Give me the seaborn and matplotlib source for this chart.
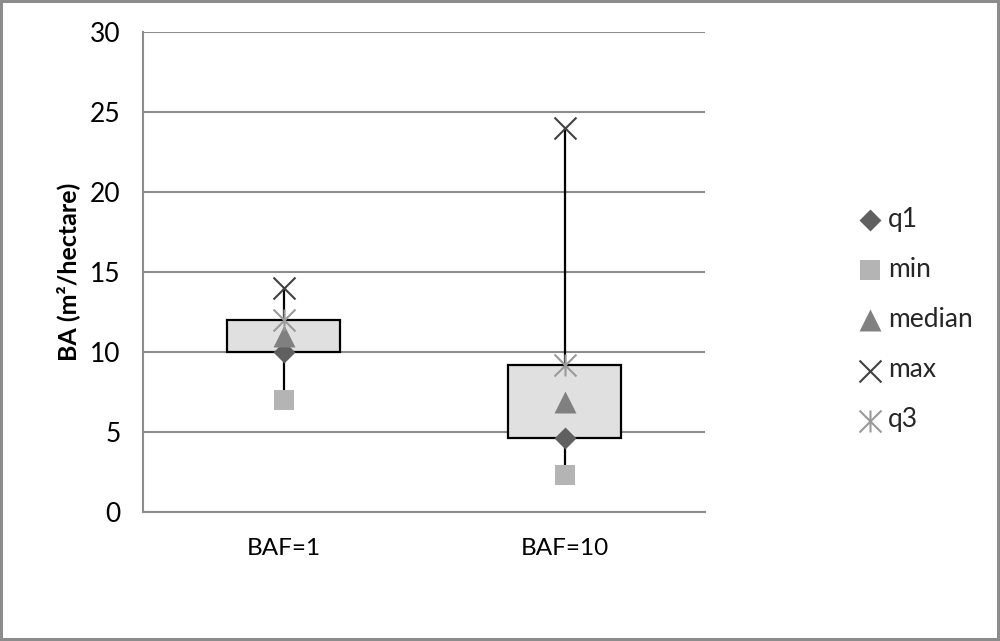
import numpy as np
import pandas as pd
import matplotlib
matplotlib.use("Agg")
import matplotlib.pyplot as plt
from matplotlib.path import Path
import seaborn as sns

categories = ["BAF=1", "BAF=10"]
q1_vals = [10.0, 4.6]
min_vals = [7.0, 2.3]
median_vals = [11.0, 6.9]
max_vals = [14.0, 24.0]
q3_vals = [12.0, 9.2]

sns.set_theme(style="white")
plt.rcParams["font.family"] = ["Lato", "DejaVu Sans"]

fig = plt.figure(figsize=(10, 6.41), dpi=100)
fig.patch.set_edgecolor("#8c8c8c")
fig.patch.set_linewidth(3)
ax = fig.add_axes([0.143, 0.2012, 0.562, 0.7488])

# boxes from quartiles, whiskers to min/max
stats = []
for i in range(len(categories)):
    stats.append(dict(med=median_vals[i], q1=q1_vals[i], q3=q3_vals[i],
                      whislo=min_vals[i], whishi=max_vals[i], fliers=[]))
ax.bxp(stats, positions=range(len(categories)), widths=0.4, patch_artist=True,
       showcaps=False, showfliers=False,
       boxprops=dict(facecolor="#e0e0e0", edgecolor="black", linewidth=1.6),
       whiskerprops=dict(color="black", linewidth=1.6),
       medianprops=dict(linewidth=0), manage_ticks=False, zorder=3)

star = Path([(0, -0.5), (0, 0.5), (-0.5, -0.5), (0.5, 0.5), (-0.5, 0.5), (0.5, -0.5)],
            [Path.MOVETO, Path.LINETO, Path.MOVETO, Path.LINETO, Path.MOVETO, Path.LINETO])

df = pd.DataFrame({"cat": categories, "q1": q1_vals, "min": min_vals,
                   "median": median_vals, "max": max_vals, "q3": q3_vals})

sns.scatterplot(data=df, x="cat", y="q1", marker="D", color="#606060", s=125,
                linewidth=0, label="q1", ax=ax, zorder=5)
sns.scatterplot(data=df, x="cat", y="min", marker="s", color="#b4b4b4", s=210,
                linewidth=0, label="min", ax=ax, zorder=5)
sns.scatterplot(data=df, x="cat", y="median", marker="^", color="#808080", s=250,
                linewidth=0, label="median", ax=ax, zorder=5)
sns.scatterplot(data=df, x="cat", y="max", marker="x", color="#404040", s=250,
                linewidth=1.5, label="max", ax=ax, zorder=5)
sns.scatterplot(data=df, x="cat", y="q3", marker=star, color="#9a9a9a", s=250,
                edgecolor="#9a9a9a", linewidth=1.5, label="q3", ax=ax, zorder=5)

ax.set_xlim(-0.5, len(categories) - 0.5)
ax.set_ylim(0, 30)
ax.set_yticks(np.arange(0, 31, 5))
ax.set_xticks(range(len(categories)))
ax.set_xticklabels(categories)
ax.yaxis.grid(True, color="#8c8c8c", linewidth=1.5)
ax.set_axisbelow(True)
for s in ["top", "right"]:
    ax.spines[s].set_visible(False)
for s in ["left", "bottom"]:
    ax.spines[s].set_color("#8c8c8c")
    ax.spines[s].set_linewidth(1.5)
ax.tick_params(axis="y", length=0, pad=16, labelsize=19, labelcolor="black")
ax.tick_params(axis="x", length=0, pad=19, labelsize=17.5, labelcolor="black")
ax.set_xlabel("")
ax.set_ylabel("BA (m²/hectare)", fontsize=18, fontweight="bold", color="black")
ax.yaxis.set_label_coords(-0.112, 0.5)

ax.legend(loc="center left", bbox_to_anchor=(0.846, 0.501), bbox_transform=fig.transFigure,
          frameon=False, fontsize=19, labelspacing=0.95, handletextpad=0.2,
          handlelength=1.0, borderaxespad=0)

fig.savefig("out.png", dpi=100)
